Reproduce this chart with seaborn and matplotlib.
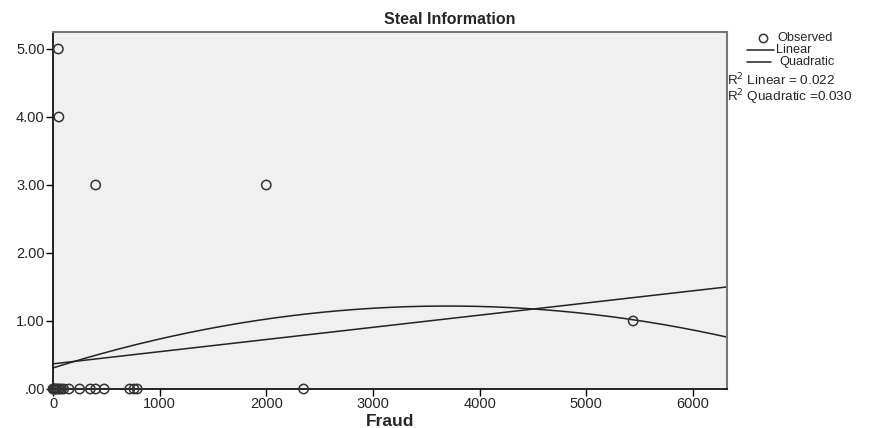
import numpy as np
import pandas as pd
import seaborn as sns
import matplotlib
matplotlib.use('Agg')
import matplotlib.pyplot as plt
from matplotlib.ticker import FuncFormatter

# observed points (Fraud vs Steal Information)
fraud = [50, 55, 400, 2000, 5440, 2350,
         0, 10, 20, 30, 45, 60, 80, 100, 150, 250, 350, 400, 480, 720, 760, 790]
steal = [5, 4, 3, 3, 1, 0,
         0, 0, 0, 0, 0, 0, 0, 0, 0, 0, 0, 0, 0, 0, 0, 0]

# fitted curve coefficients (intercept, x, x^2)
linear_coef = [0.37, 0.000179, 0.0]
quad_coef = [0.31, 0.000492, -6.65e-8]

r2_linear = 0.022
r2_quad = 0.030

df = pd.DataFrame({'Fraud': fraud, 'Steal': steal})
xs = np.linspace(0, 6320, 200)
fits = pd.DataFrame({
    'Fraud': np.concatenate([xs, xs]),
    'y': np.concatenate([
        linear_coef[0] + linear_coef[1] * xs + linear_coef[2] * xs ** 2,
        quad_coef[0] + quad_coef[1] * xs + quad_coef[2] * xs ** 2]),
    'fit': ['Linear'] * len(xs) + ['Quadratic'] * len(xs),
})

sns.set_style('white')
plt.rcParams['font.family'] = ['Liberation Sans', 'DejaVu Sans']

fig = plt.figure(figsize=(8.81, 4.28), dpi=100)
ax = fig.add_axes([53 / 881, 1 - 389 / 428, 674 / 881, 357 / 428])
ax.set_facecolor('#f0f0f0')

sns.lineplot(data=fits, x='Fraud', y='y', units='fit', estimator=None,
             color='#222222', linewidth=1.1, ax=ax, legend=False)
sns.scatterplot(data=df, x='Fraud', y='Steal', marker='o', s=45,
                facecolor='none', edgecolor='#333333', linewidth=1.1,
                ax=ax, legend=False, clip_on=False, zorder=3)

ax.set_xlim(0, 6320)
ax.set_ylim(0, 5.25)
ax.set_xticks([0, 1000, 2000, 3000, 4000, 5000, 6000])
ax.set_yticks([0, 1, 2, 3, 4, 5])
ax.yaxis.set_major_formatter(FuncFormatter(lambda v, p: '.00' if v == 0 else f'{v:.2f}'))
ax.tick_params(axis='both', direction='out', length=5, width=1, color='black',
               labelsize=10.5, pad=1, bottom=True, left=True)
for s in ['left', 'bottom']:
    ax.spines[s].set_color('black')
    ax.spines[s].set_linewidth(1.2)
for s in ['top', 'right']:
    ax.spines[s].set_color('#777777')
    ax.spines[s].set_linewidth(1.5)

ax.set_xlabel('Fraud', fontsize=12.5, fontweight='bold', va='center')
ax.xaxis.set_label_coords(0.5, (389 - 422) / 357)
ax.set_ylabel('')
fig.text(450 / 881, 1 - 19 / 428, 'Steal Information', fontsize=11.5,
         fontweight='bold', ha='center', va='center')

# legend at the right
fs = 9.2
fig.add_artist(plt.Line2D([763 / 881], [1 - 38 / 428], transform=fig.transFigure,
                          marker='o', markersize=6, markerfacecolor='none',
                          markeredgecolor='#333333', markeredgewidth=1.1, linestyle='none'))
fig.text(777 / 881, 1 - 38 / 428, 'Observed', fontsize=fs, va='center')
fig.lines.append(plt.Line2D([747 / 881, 774 / 881], [1 - 50 / 428, 1 - 50 / 428],
                            transform=fig.transFigure, color='#222222', lw=1.1))
fig.text(776 / 881, 1 - 50 / 428, 'Linear', fontsize=fs, va='center')
fig.lines.append(plt.Line2D([747 / 881, 771 / 881], [1 - 62 / 428, 1 - 62 / 428],
                            transform=fig.transFigure, color='#222222', lw=1.1))
fig.text(779 / 881, 1 - 62 / 428, 'Quadratic', fontsize=fs, va='center')
fig.text(727 / 881, 1 - 80 / 428, f'R$^2$ Linear = {r2_linear:.3f}', fontsize=fs + 0.5, va='center')
fig.text(727 / 881, 1 - 97 / 428, f'R$^2$ Quadratic ={r2_quad:.3f}', fontsize=fs + 0.5, va='center')

fig.savefig('out.png', dpi=100)
